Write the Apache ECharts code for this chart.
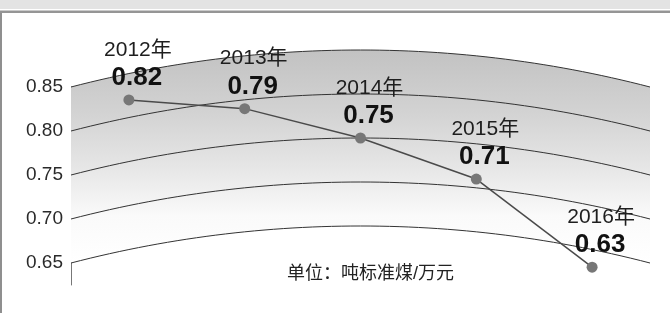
<!DOCTYPE html>
<html>
<head>
<meta charset="utf-8">
<script src="https://cdn.jsdelivr.net/npm/echarts@6/dist/echarts.min.js"></script>
<style>
  html, body { margin: 0; padding: 0; background: #fff; }
  #chart { width: 670px; height: 313px; }
</style>
</head>
<body>
<div id="chart"></div>
<script>
// 数据
var years = ['2012年', '2013年', '2014年', '2015年', '2016年'];
var values = [0.82, 0.79, 0.75, 0.71, 0.63];
var yTicks = [0.85, 0.80, 0.75, 0.70, 0.65];
var unitText = '单位：吨标准煤/万元';

var FONT = "'Liberation Sans', Arial, 'Noto Sans CJK SC', sans-serif";
var BULGE = 37; // 弧线拱起高度(px)

// 弧形变换：x 越靠中间，y 越往上抬
function lift(x, coordSys) {
    var half = coordSys.width / 2;
    var cx = coordSys.x + half;
    var R = (half * half + BULGE * BULGE) / (2 * BULGE);
    var dx = x - cx;
    return Math.sqrt(Math.max(R * R - dx * dx, 0)) - (R - BULGE);
}
function warp(pt, coordSys) {
    return [pt[0], pt[1] - lift(pt[0], coordSys)];
}
function arcPoints(api, coordSys, v) {
    var y = api.coord([0, v])[1];
    var pts = [];
    var n = 60;
    for (var i = 0; i <= n; i++) {
        var x = coordSys.x + coordSys.width * i / n;
        pts.push([x, y - lift(x, coordSys)]);
    }
    return pts;
}

var myChart = echarts.init(document.getElementById('chart'));

myChart.setOption({
    animation: false,
    grid: {
        left: 71,
        right: 20,
        top: 87,
        bottom: 28
    },
    xAxis: {
        type: 'category',
        data: years,
        boundaryGap: true,
        show: false
    },
    yAxis: {
        type: 'value',
        min: 0.625,
        max: 0.85,
        axisLine: { show: true, lineStyle: { color: '#777', width: 1 } },
        axisTick: { show: false },
        splitLine: { show: false },
        axisLabel: {
            customValues: yTicks,
            formatter: function (v) { return v.toFixed(2); },
            color: '#2a2a2a',
            fontSize: 19,
            fontFamily: FONT,
            margin: 8
        }
    },
    graphic: [
        { type: 'rect', shape: { x: 0, y: 0, width: 670, height: 9 }, style: { fill: '#e3e3e3' }, silent: true },
        { type: 'rect', shape: { x: 0, y: 10.5, width: 670, height: 2.5 }, style: { fill: '#959595' }, silent: true },
        { type: 'rect', shape: { x: 0, y: 13, width: 2, height: 300 }, style: { fill: '#8f8f8f' }, silent: true },
        {
            type: 'text', left: 287, top: 265,
            style: { text: unitText, fill: '#222', font: '18px ' + FONT }
        }
    ],
    series: [
        {
            // 渐变底色
            type: 'custom',
            z: 1,
            data: [[0, yTicks[0]]],
            renderItem: function (params, api) {
                var cs = params.coordSys;
                var top = arcPoints(api, cs, yTicks[0]);
                var bottom = arcPoints(api, cs, yTicks[yTicks.length - 1]).reverse();
                return {
                    type: 'polygon',
                    shape: { points: top.concat(bottom) },
                    style: {
                        fill: new echarts.graphic.LinearGradient(0, 0, 0, 1, [
                            { offset: 0, color: '#c2c2c2' },
                            { offset: 0.3, color: '#d3d3d3' },
                            { offset: 0.55, color: '#e6e6e6' },
                            { offset: 0.78, color: '#fafafa' },
                            { offset: 1, color: '#ffffff' }
                        ])
                    },
                    silent: true
                };
            }
        },
        {
            // 弧线
            type: 'custom',
            z: 2,
            data: yTicks.map(function (v) { return [0, v]; }),
            renderItem: function (params, api) {
                return {
                    type: 'polyline',
                    shape: { points: arcPoints(api, params.coordSys, api.value(1)) },
                    style: { stroke: '#333', lineWidth: 1, fill: null },
                    silent: true
                };
            }
        },
        {
            // 折线 + 点 + 标签
            type: 'custom',
            z: 3,
            data: values.map(function (v, i) { return [i, v]; }),
            renderItem: function (params, api) {
                var cs = params.coordSys;
                var i = api.value(0);
                var p = warp(api.coord([i, api.value(1)]), cs);
                var children = [];
                if (i > 0) {
                    var q = warp(api.coord([i - 1, values[i - 1]]), cs);
                    children.push({
                        type: 'line', z2: 1,
                        shape: { x1: q[0], y1: q[1], x2: p[0], y2: p[1] },
                        style: { stroke: '#4a4a4a', lineWidth: 1.5 }
                    });
                }
                children.push({
                    type: 'circle', z2: 2,
                    shape: { cx: p[0], cy: p[1], r: 5.5 },
                    style: { fill: '#777' }
                });
                children.push({
                    type: 'text', z2: 3,
                    style: {
                        text: years[i], x: p[0] + 9, y: p[1] - 50,
                        align: 'center', verticalAlign: 'middle',
                        fill: '#1e1e1e', font: '21px ' + FONT
                    }
                });
                children.push({
                    type: 'text', z2: 3,
                    style: {
                        text: values[i].toFixed(2), x: p[0] + 8, y: p[1] - 22,
                        align: 'center', verticalAlign: 'middle',
                        fill: '#111', font: 'bold 26px ' + FONT
                    }
                });
                return { type: 'group', children: children };
            }
        }
    ]
});
</script>
</body>
</html>
